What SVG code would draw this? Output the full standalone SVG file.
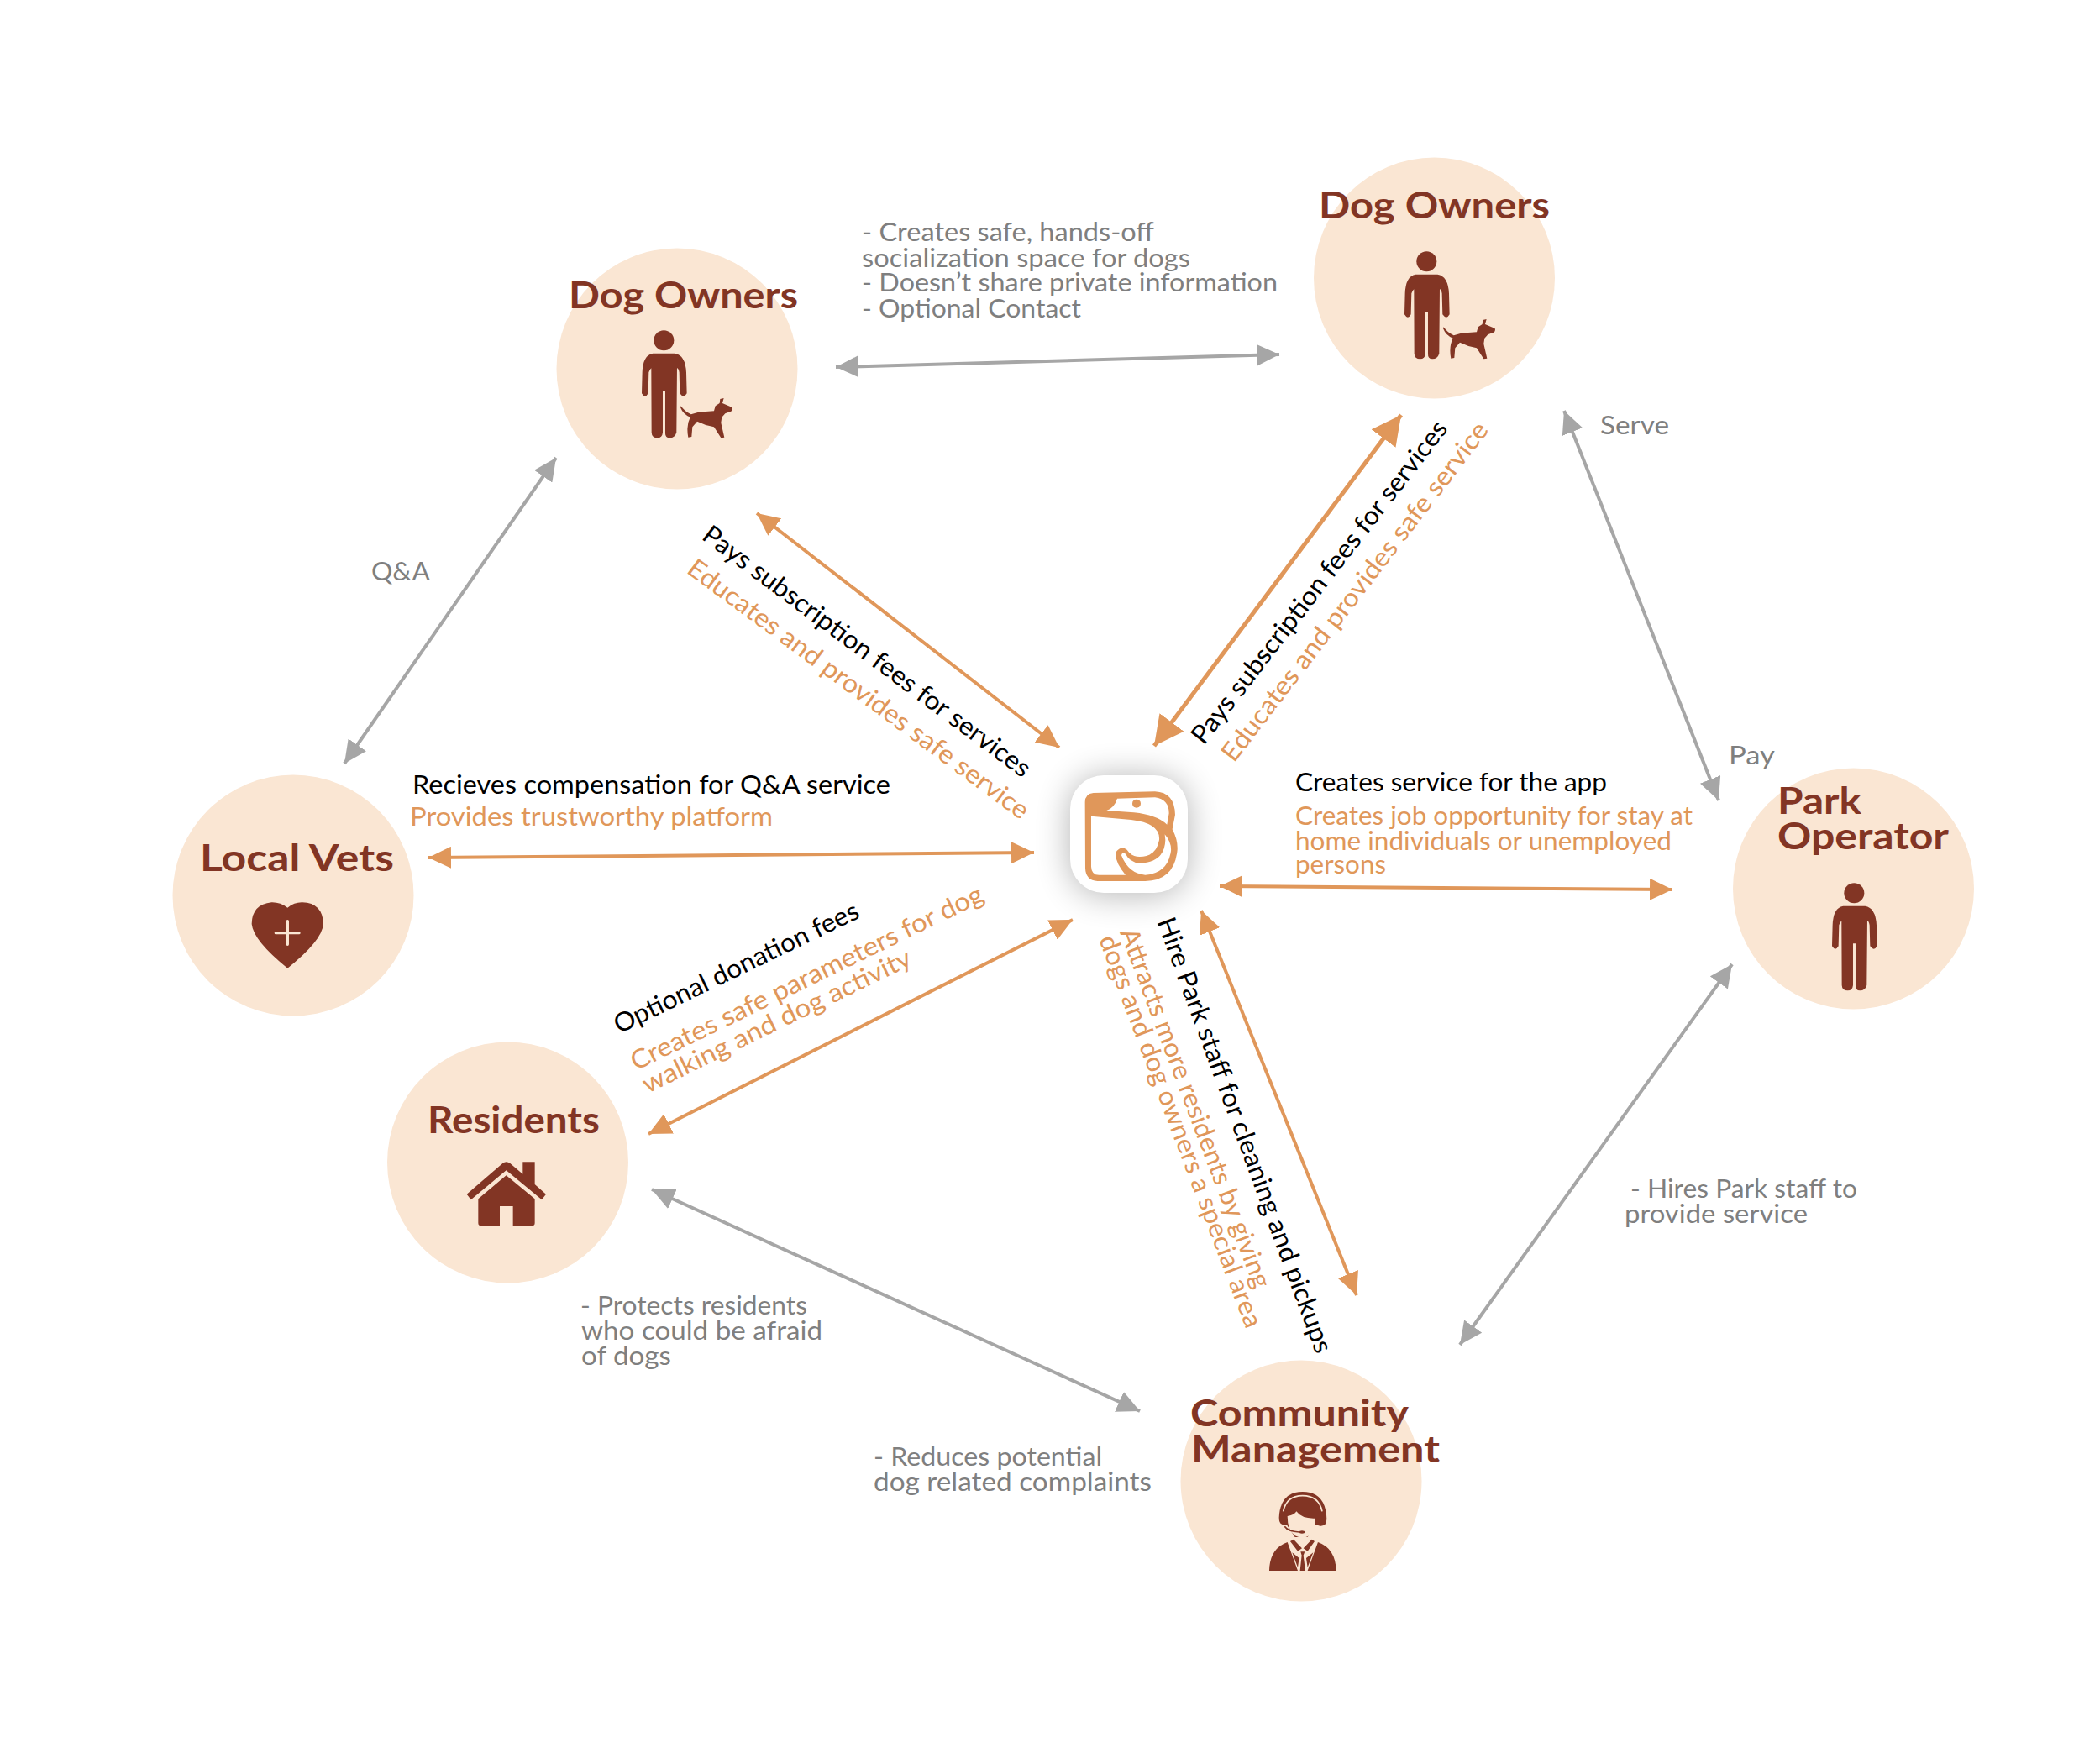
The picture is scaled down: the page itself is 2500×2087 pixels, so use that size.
<svg xmlns="http://www.w3.org/2000/svg" xmlns:xlink="http://www.w3.org/1999/xlink" width="2500" height="2087" viewBox="0 0 2500 2087">
<style>
text{font-family:"Lato","Liberation Sans",sans-serif;font-size:31px}
.h{font-size:44px;font-weight:700;fill:#823524}
.g{fill:#7f7f7f}
.o{fill:#e0975a}
.k{fill:#000}
.c{fill:#fae6d3}
.i{fill:#823524}
.lg{stroke:#a6a6a6;stroke-width:4;fill:none;marker-start:url(#ag);marker-end:url(#ag)}
.lo{stroke:#e0975a;stroke-width:4;fill:none;marker-start:url(#ao);marker-end:url(#ao)}
.lb{stroke:#e0975a;stroke-width:5;fill:none;marker-start:url(#ab);marker-end:url(#ab)}
</style>
<defs>
<marker id="ag" markerUnits="userSpaceOnUse" markerWidth="30" markerHeight="26" refX="27" refY="13" orient="auto-start-reverse"><path d="M0 0L27 13L0 26Z" fill="#a6a6a6"/></marker>
<marker id="ao" markerUnits="userSpaceOnUse" markerWidth="30" markerHeight="26" refX="27" refY="13" orient="auto-start-reverse"><path d="M0 0L27 13L0 26Z" fill="#e0975a"/></marker>
<marker id="ab" markerUnits="userSpaceOnUse" markerWidth="38" markerHeight="36" refX="35" refY="18" orient="auto-start-reverse"><path d="M0 0L35 18L0 36Z" fill="#e0975a"/></marker>
<filter id="sh" x="-40%" y="-40%" width="180%" height="180%"><feGaussianBlur stdDeviation="20"/></filter>
<g id="person"><circle cx="451" cy="376" r="36"/><path d="M412 422H490Q528 428 531 490L533 565Q522 585 508 565L506 490Q503 475 498 475L496 705Q490 724 472 724Q455 724 456 705L456 556H447L447 705Q445 724 428 724Q408 724 407 705L406 475Q400 480 397 490L395 565Q384 585 372 565L374 490Q376 428 412 422Z"/></g>
<path id="dog" d="M512 610Q525 630 548 640Q575 630 600 630L630 628L635 610L650 600L652 585L665 582L660 600L695 615Q700 630 680 633L670 637L658 650L655 670L667 722L655 724L630 685Q600 680 570 665L553 685L550 720L538 722Q530 680 545 650Q520 640 510 615Z"/>
</defs>
<rect width="2500" height="2087" fill="#fff"/>
<g id="connectors">
<line class="lg" x1="995" y1="437" x2="1523" y2="422"/>
<line class="lg" x1="662" y1="545" x2="410" y2="909"/>
<line class="lg" x1="1862" y1="489" x2="2046" y2="953"/>
<line class="lg" x1="2062" y1="1148" x2="1738" y2="1601"/>
<line class="lg" x1="776" y1="1416" x2="1357" y2="1680"/>
<line class="lo" x1="901" y1="611" x2="1261" y2="890"/>
<line class="lb" x1="1668" y1="494" x2="1374" y2="888"/>
<line class="lo" x1="510" y1="1021" x2="1231" y2="1015"/>
<line class="lo" x1="1452" y1="1055" x2="1991" y2="1059"/>
<line class="lo" x1="1277" y1="1095" x2="772" y2="1350"/>
<line class="lo" x1="1430" y1="1084" x2="1615" y2="1542"/>
</g>
<g id="node-dog-owners-left">
<circle class="c" cx="806" cy="439" r="143.5"/>
<text class="h" x="677" y="367" textLength="273" lengthAdjust="spacingAndGlyphs">Dog Owners</text>
<g class="i" transform="translate(640 280) scale(.3333)"><use href="#person"/><use href="#dog"/></g>
</g>
<g id="node-dog-owners-right">
<circle class="c" cx="1707.500" cy="331" r="143.5"/>
<text class="h" x="1570" y="260" textLength="275" lengthAdjust="spacingAndGlyphs">Dog Owners</text>
<g class="i" transform="translate(1548 186) scale(.3333)"><use href="#person"/><use href="#dog"/></g>
</g>
<g id="node-local-vets">
<circle class="c" cx="349" cy="1066" r="143.5"/>
<text class="h" x="238" y="1037" textLength="231" lengthAdjust="spacingAndGlyphs">Local Vets</text>
<g transform="translate(260 1040) scale(.3333)"><path class="i" d="M247 122Q220 102 190 103Q120 110 119 180Q125 240 247 338Q370 240 375 180Q372 105 300 103Q272 102 247 122Z"/><path d="M205 212H288M247 170V253" stroke="#fae6d3" stroke-width="10" stroke-linecap="round" fill="none"/></g>
</g>
<g id="node-residents">
<circle class="c" cx="604.500" cy="1384" r="143.5"/>
<text class="h" x="509" y="1349" textLength="205" lengthAdjust="spacingAndGlyphs">Residents</text>
<g class="i" transform="translate(530 1350) scale(.3333)"><path d="M77 215L205 105Q218 95 232 105L277 143V100H320V180L360 215L345 235L218 130L92 235Z"/><path d="M118 232L218 148L320 232V318Q320 328 310 328H242V258H195V328H128Q118 328 118 318Z"/></g>
</g>
<g id="node-community-management">
<circle class="c" cx="1549" cy="1763" r="143.5"/>
<text class="h" x="1417" y="1698" textLength="260" lengthAdjust="spacingAndGlyphs">Community</text>
<text class="h" x="1418" y="1741" textLength="296" lengthAdjust="spacingAndGlyphs">Management</text>
<g transform="translate(1400 1740) scale(.3333)">
<path class="i" d="M368 200Q372 108 452 108Q535 108 538 205Q538 232 515 230L497 225L470 270L425 270L395 225Q368 232 368 200Z"/>
<path d="M383 178Q395 122 452 122Q510 122 522 178" fill="none" stroke="#fae6d3" stroke-width="5"/>
<path class="c" d="M398 195Q425 190 430 178Q450 205 497 203Q500 250 470 268Q450 278 425 265Q398 245 398 195Z"/>
<path d="M388 232Q400 250 440 252" fill="none" stroke="#823524" stroke-width="5"/><ellipse class="i" cx="450" cy="252" rx="10" ry="5"/>
<path class="i" d="M333 390Q335 310 398 288L435 390Z M572 390Q570 310 507 288L470 390Z M445 322L460 322L455 335L462 390H443L449 335Z M408 285L420 278L450 310L435 320Z M495 285L485 278L455 310L470 320Z M415 325L440 345L435 378Z M490 325L465 345L470 378Z"/>
</g>
</g>
<g id="node-park-operator">
<circle class="c" cx="2206.500" cy="1058" r="143.5"/>
<text class="h" x="2116" y="969" textLength="100" lengthAdjust="spacingAndGlyphs">Park</text>
<text class="h" x="2116" y="1011" textLength="204" lengthAdjust="spacingAndGlyphs">Operator</text>
<g class="i" transform="translate(2057 938) scale(.3333)"><use href="#person"/></g>
</g>
<g id="node-app">
<rect x="1274" y="925" width="140" height="140" rx="40" fill="#000" opacity=".3" filter="url(#sh)"/>
<rect x="1274" y="923" width="140" height="140" rx="40" fill="#fff"/>
<g transform="translate(1230 880) scale(.3333)">
<path class="o" d="M185 225Q185 195 215 192L435 187Q505 190 507 270L497 322Q517 360 515 395Q505 505 400 507L230 507Q187 505 186 460Z"/>
<path fill="#fff" d="M300 212L435 208Q485 215 485 265L478 305Q440 270 360 262L262 255Q290 245 300 212Z"/>
<circle class="o" cx="369" cy="230" r="15"/>
<path fill="#fff" d="M207 275L350 288Q455 300 450 360Q440 420 380 420Q350 420 335 395Q315 380 298 400Q285 430 330 485L235 485Q208 485 207 455Z"/>
<path fill="#fff" d="M470 340Q495 370 492 400Q480 480 400 485Q340 480 315 415Q318 400 330 410Q345 440 380 443Q470 440 472 360Z"/>
</g>
</g>
<g id="labels">
<text class="g" x="1026" y="287" textLength="348" lengthAdjust="spacingAndGlyphs">- Creates safe, hands-off</text>
<text class="g" x="1026" y="318" textLength="391" lengthAdjust="spacingAndGlyphs">socialization space for dogs</text>
<text class="g" x="1026" y="347" textLength="495" lengthAdjust="spacingAndGlyphs">- Doesn’t share private information</text>
<text class="g" x="1026" y="378" textLength="261" lengthAdjust="spacingAndGlyphs">- Optional Contact</text>
<text class="g" x="1905" y="517" textLength="82" lengthAdjust="spacingAndGlyphs">Serve</text>
<text class="g" x="442" y="691" textLength="70" lengthAdjust="spacingAndGlyphs">Q&amp;A</text>
<text class="g" x="2058" y="910" textLength="55" lengthAdjust="spacingAndGlyphs">Pay</text>
<text class="g" x="1941" y="1426" textLength="270" lengthAdjust="spacingAndGlyphs">- Hires Park staff to</text>
<text class="g" x="1934" y="1456" textLength="218" lengthAdjust="spacingAndGlyphs">provide service</text>
<text class="g" x="691" y="1565" textLength="270" lengthAdjust="spacingAndGlyphs">- Protects residents</text>
<text class="g" x="692" y="1595" textLength="287" lengthAdjust="spacingAndGlyphs">who could be afraid</text>
<text class="g" x="692" y="1625" textLength="107" lengthAdjust="spacingAndGlyphs">of dogs</text>
<text class="g" x="1040" y="1745" textLength="272" lengthAdjust="spacingAndGlyphs">- Reduces potential</text>
<text class="g" x="1040" y="1775" textLength="331" lengthAdjust="spacingAndGlyphs">dog related complaints</text>
<text class="k" x="491" y="945" textLength="569" lengthAdjust="spacingAndGlyphs">Recieves compensation for Q&amp;A service</text>
<text class="o" x="488" y="983" textLength="432" lengthAdjust="spacingAndGlyphs">Provides trustworthy platform</text>
<text class="k" x="1542" y="942" textLength="371" lengthAdjust="spacingAndGlyphs">Creates service for the app</text>
<text class="o" x="1542" y="982" textLength="473" lengthAdjust="spacingAndGlyphs">Creates job opportunity for stay at</text>
<text class="o" x="1542" y="1012" textLength="448" lengthAdjust="spacingAndGlyphs">home individuals or unemployed</text>
<text class="o" x="1542" y="1040" textLength="108" lengthAdjust="spacingAndGlyphs">persons</text>
<text class="k" transform="translate(834 641) rotate(36.7)" textLength="478" lengthAdjust="spacingAndGlyphs">Pays subscription fees for services</text>
<text class="o" transform="translate(816 681) rotate(36.5)" textLength="497" lengthAdjust="spacingAndGlyphs">Educates and provides safe service</text>
<text class="k" transform="translate(1433 888) rotate(-52.3)" textLength="477" lengthAdjust="spacingAndGlyphs">Pays subscription fees for services</text>
<text class="o" transform="translate(1469 909) rotate(-52.5)" textLength="500" lengthAdjust="spacingAndGlyphs">Educates and provides safe service</text>
<text class="k" transform="translate(1377 1097) rotate(69.8)" textLength="550" lengthAdjust="spacingAndGlyphs">Hire Park staff for cleaning and pickups</text>
<text class="o" transform="translate(1333 1110) rotate(69.3)" textLength="455" lengthAdjust="spacingAndGlyphs">Attracts more residents by giving</text>
<text class="o" transform="translate(1308 1118) rotate(69.3)" textLength="497" lengthAdjust="spacingAndGlyphs">dogs and dog owners a special area</text>
<text class="k" transform="translate(737 1231) rotate(-25.8)" textLength="320" lengthAdjust="spacingAndGlyphs">Optional donation fees</text>
<text class="o" transform="translate(757 1275) rotate(-26)" textLength="463" lengthAdjust="spacingAndGlyphs">Creates safe parameters for dog</text>
<text class="o" transform="translate(771 1302) rotate(-26)" textLength="352" lengthAdjust="spacingAndGlyphs">walking and dog activity</text>
</g>
</svg>
